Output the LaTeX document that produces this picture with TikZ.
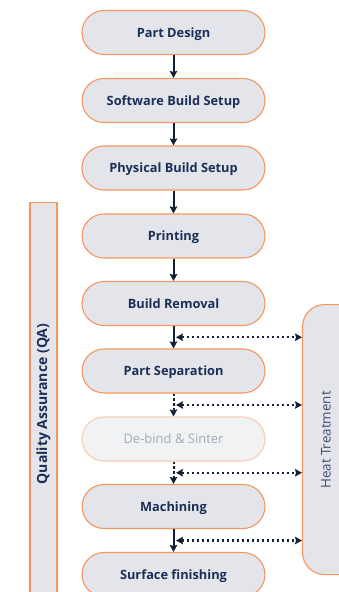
\documentclass[tikz,border=0pt]{standalone}
\usepackage{fontspec}
\setmainfont{Open Sans}
\usetikzlibrary{arrows.meta,calc}
\definecolor{boxfill}{HTML}{E3E5EA}
\definecolor{boxedge}{HTML}{F4975E}
\definecolor{txt}{HTML}{1C2F57}
\definecolor{arr}{HTML}{142033}
\definecolor{fadefill}{HTML}{F1F2F4}
\definecolor{fadeedge}{HTML}{F9CDB2}
\definecolor{fadetxt}{HTML}{A3ABBB}
\definecolor{httxt}{HTML}{3D4E70}
\tikzset{
  stepbox/.style={draw=boxedge, fill=boxfill, line width=1.1pt, rounded corners=22pt,
    minimum width=183pt, minimum height=44pt, inner sep=0pt, text=txt,
    text height=9.2pt, text depth=0pt,
    font=\fontsize{12.8}{14}\selectfont\bfseries},
  fadebox/.style={stepbox, draw=fadeedge, fill=fadefill, text=fadetxt, font=\fontsize{13}{14}\selectfont},
  flow/.style={draw=arr, line width=2pt, -{Stealth[length=7pt,width=7.5pt,inset=1pt]}},
  dflow/.style={flow, dash pattern=on 2.4pt off 2.4pt},
  hflow/.style={draw=arr, line width=2.2pt, dash pattern=on 2.4pt off 2.6pt,
    {Stealth[length=7pt,width=7.5pt,inset=1pt]}-{Stealth[length=7pt,width=7.5pt,inset=1pt]}}
}
\begin{document}
\begin{tikzpicture}[x=1pt,y=-1pt]
\useasboundingbox (0,0) rectangle (338,592);
% side bars
\node[draw=boxedge, fill=boxfill, line width=1.1pt, minimum width=27pt, minimum height=400pt,
  anchor=north, inner sep=0pt] (qa) at (43.5,202) {};
\node[rotate=90, text=txt, font=\fontsize{14}{16}\selectfont\bfseries] (qalbl) at (43.5,404) {Quality Assurance (QA)};
\node[draw=boxedge, fill=boxfill, line width=1.1pt, rounded corners=22pt, minimum width=70pt,
  minimum height=270pt, anchor=north west, inner sep=0pt] (ht) at (302,304) {};
\node[rotate=90, text=httxt, font=\fontsize{13.4}{15}\selectfont] (htlbl) at (326,440) {Heat Treatment};
% steps
\node[stepbox] (s1) at (173.5,32.5) {Part Design};
\node[stepbox] (s2) at (173.5,100.5) {Software Build Setup};
\node[stepbox] (s3) at (173.5,168) {Physical Build Setup};
\node[stepbox] (s4) at (173.5,236) {Printing};
\node[stepbox] (s5) at (173.5,303.5) {Build Removal};
\node[stepbox] (s6) at (173.5,371) {Part Separation};
\node[fadebox] (s7) at (173.5,439) {De-bind \& Sinter};
\node[stepbox] (s8) at (173.5,506.5) {Machining};
\node[stepbox] (s9) at (173.5,574.5) {Surface finishing};
% vertical connectors
\draw[flow] (s1) -- (s2);
\draw[flow] (s2) -- (s3);
\draw[flow] (s3) -- (s4);
\draw[flow] (s4) -- (s5);
\draw[flow] (s5) -- (s6);
\draw[dflow] (s6) -- (s7);
\draw[dflow] (s7) -- (s8);
\draw[flow] (s8) -- (s9);
% horizontal connectors
\coordinate (h1) at ($(s5.south)!0.5!(s6.north)+(2.5,0)$);
\coordinate (h2) at ($(s6.south)!0.5!(s7.north)+(2.5,0)$);
\coordinate (h3) at ($(s7.south)!0.5!(s8.north)+(2.5,0)$);
\coordinate (h4) at ($(s8.south)!0.5!(s9.north)+(2.5,0)$);
\draw[hflow] (h1) -- (ht.west |- h1);
\draw[hflow] (h2) -- (ht.west |- h2);
\draw[hflow] (h3) -- (ht.west |- h3);
\draw[hflow] (h4) -- (ht.west |- h4);
\end{tikzpicture}
\end{document}
